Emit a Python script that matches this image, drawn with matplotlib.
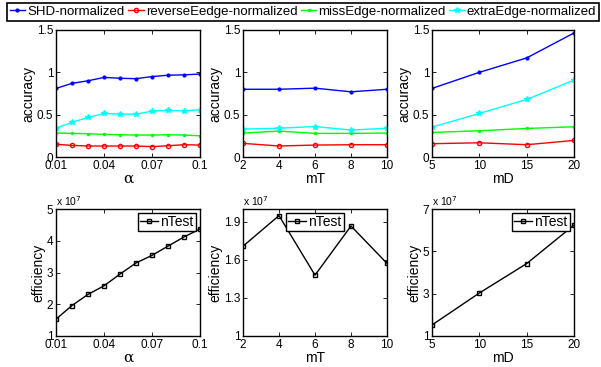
import numpy as np
import matplotlib.pyplot as plt

plt.rcParams['font.family'] = ['Liberation Sans', 'DejaVu Sans']
plt.rcParams['xtick.direction'] = 'in'
plt.rcParams['ytick.direction'] = 'in'
plt.rcParams['xtick.top'] = True
plt.rcParams['ytick.right'] = True
plt.rcParams['xtick.major.size'] = 3
plt.rcParams['ytick.major.size'] = 3

# ===============================
# DATA
# ===============================
alpha = [0.01, 0.02, 0.03, 0.04, 0.05, 0.06, 0.07, 0.08, 0.09, 0.1]
mT = [2, 4, 6, 8, 10]
mD = [5, 10, 15, 20]

series_names = ["SHD-normalized", "reverseEedge-normalized",
                "missEdge-normalized", "extraEdge-normalized"]

shd_alpha = [0.81, 0.87, 0.90, 0.94, 0.93, 0.925, 0.95, 0.966, 0.97, 0.98]
rev_alpha = [0.15, 0.137, 0.13, 0.13, 0.13, 0.13, 0.122, 0.133, 0.145, 0.141]
miss_alpha = [0.283, 0.279, 0.275, 0.267, 0.263, 0.259, 0.259, 0.263, 0.259, 0.251]
extra_alpha = [0.34, 0.41, 0.467, 0.514, 0.506, 0.506, 0.542, 0.55, 0.546, 0.557]

shd_mT = [0.80, 0.80, 0.813, 0.77, 0.80]
rev_mT = [0.161, 0.13, 0.141, 0.145, 0.145]
miss_mT = [0.283, 0.306, 0.279, 0.279, 0.283]
extra_mT = [0.33, 0.34, 0.36, 0.318, 0.34]

shd_mD = [0.81, 1.0, 1.17, 1.465]
rev_mD = [0.157, 0.168, 0.145, 0.196]
miss_mD = [0.29, 0.31, 0.337, 0.357]
extra_mD = [0.353, 0.514, 0.68, 0.907]

# efficiency in units of 1e7
ntest_alpha = [1.53, 1.96, 2.31, 2.58, 2.95, 3.30, 3.54, 3.83, 4.12, 4.37]
ntest_mT = [1.707, 1.948, 1.479, 1.866, 1.572]
ntest_mD = [1.52, 3.03, 4.42, 6.24]

# ===============================
# LAYOUT
# ===============================
W, H = 601, 367
fig = plt.figure(figsize=(W / 100, H / 100), dpi=100)


def px_axes(x0, x1, ytop, ybot):
    return fig.add_axes([x0 / W, 1 - ybot / H, (x1 - x0) / W, (ybot - ytop) / H])


cols = [(56, 200), (243, 387), (432, 574)]
top_axes = [px_axes(x0, x1, 30, 157) for x0, x1 in cols]
bot_axes = [px_axes(x0, x1, 209, 336) for x0, x1 in cols]

styles = [
    dict(color=(0, 0, 1), marker='.', markersize=4),
    dict(color=(1, 0, 0), marker='o', markersize=3, markerfacecolor='none'),
    dict(color=(0, 1, 0), marker='.', markersize=3),
    dict(color=(0, 1, 1), marker='*', markersize=4),
]

FS_TICK = 8.5
FS_LAB = 10

top_data = [
    (alpha, [shd_alpha, rev_alpha, miss_alpha, extra_alpha]),
    (mT, [shd_mT, rev_mT, miss_mT, extra_mT]),
    (mD, [shd_mD, rev_mD, miss_mD, extra_mD]),
]
xlabels = ["α", "mT", "mD"]
xticks = [[0.01, 0.04, 0.07, 0.1], mT, mD]
xticklabels = [["0.01", "0.04", "0.07", "0.1"], None, None]

handles = []
for i, ax in enumerate(top_axes):
    x, ys = top_data[i]
    for j, y in enumerate(ys):
        h, = ax.plot(x, y, lw=1, label=series_names[j], **styles[j])
        if i == 0:
            handles.append(h)
    ax.set_xlim(x[0], x[-1])
    ax.set_ylim(0, 1.5)
    ax.set_yticks([0, 0.5, 1, 1.5])
    ax.set_yticklabels(["0", "0.5", "1", "1.5"])
    ax.set_ylabel("accuracy", fontsize=FS_LAB, labelpad=1)

bot_data = [(alpha, ntest_alpha), (mT, ntest_mT), (mD, ntest_mD)]
bot_ylim = [(1, 5), (1, 2), (1, 7)]
bot_yticks = [[1, 2, 3, 4, 5], [1, 1.3, 1.6, 1.9], [1, 3, 5, 7]]
bot_ytlab = [None, ["1", "1.3", "1.6", "1.9"], None]
bot_leg_loc = ['upper right', 'upper center', 'upper right']

for i, ax in enumerate(bot_axes):
    x, y = bot_data[i]
    ax.plot(x, y, color='black', lw=1, marker='s', markersize=3,
            markerfacecolor='none', label="nTest")
    ax.set_xlim(x[0], x[-1])
    ax.set_ylim(*bot_ylim[i])
    ax.set_yticks(bot_yticks[i])
    if bot_ytlab[i] is not None:
        ax.set_yticklabels(bot_ytlab[i])
    ax.set_ylabel("efficiency", fontsize=FS_LAB, labelpad=1)
    ax.text(0, 1.01, r"x 10$^{7}$", transform=ax.transAxes,
            fontsize=7.5, ha='left', va='bottom')
    leg = ax.legend(loc=bot_leg_loc[i], fontsize=FS_LAB, handlelength=1.3,
                    handletextpad=0.15, borderpad=0.15, borderaxespad=0.3,
                    fancybox=False, framealpha=1)
    leg.get_frame().set_edgecolor('black')

for i, ax in enumerate(top_axes + bot_axes):
    k = i % 3
    ax.set_xticks(xticks[k])
    if xticklabels[k] is not None:
        ax.set_xticklabels(xticklabels[k])
    if k == 0:
        ax.set_xlabel(xlabels[k], fontsize=FS_LAB + 1, labelpad=0,
                      family=['DejaVu Serif'])
    else:
        ax.set_xlabel(xlabels[k], fontsize=FS_LAB, labelpad=0)
    ax.tick_params(labelsize=FS_TICK, pad=2, width=0.6)
    for s in ax.spines.values():
        s.set_linewidth(1)

leg = fig.legend(handles=handles, loc='upper center', ncol=4,
                 bbox_to_anchor=(303 / W, 1 - 3 / H),
                 fontsize=9.5, handlelength=1.2, handletextpad=0.15,
                 columnspacing=0.25, borderpad=0.2, borderaxespad=0,
                 fancybox=False, framealpha=1)
leg.get_frame().set_edgecolor('black')
leg.get_frame().set_linewidth(1.2)

fig.savefig("out.png", dpi=100)
